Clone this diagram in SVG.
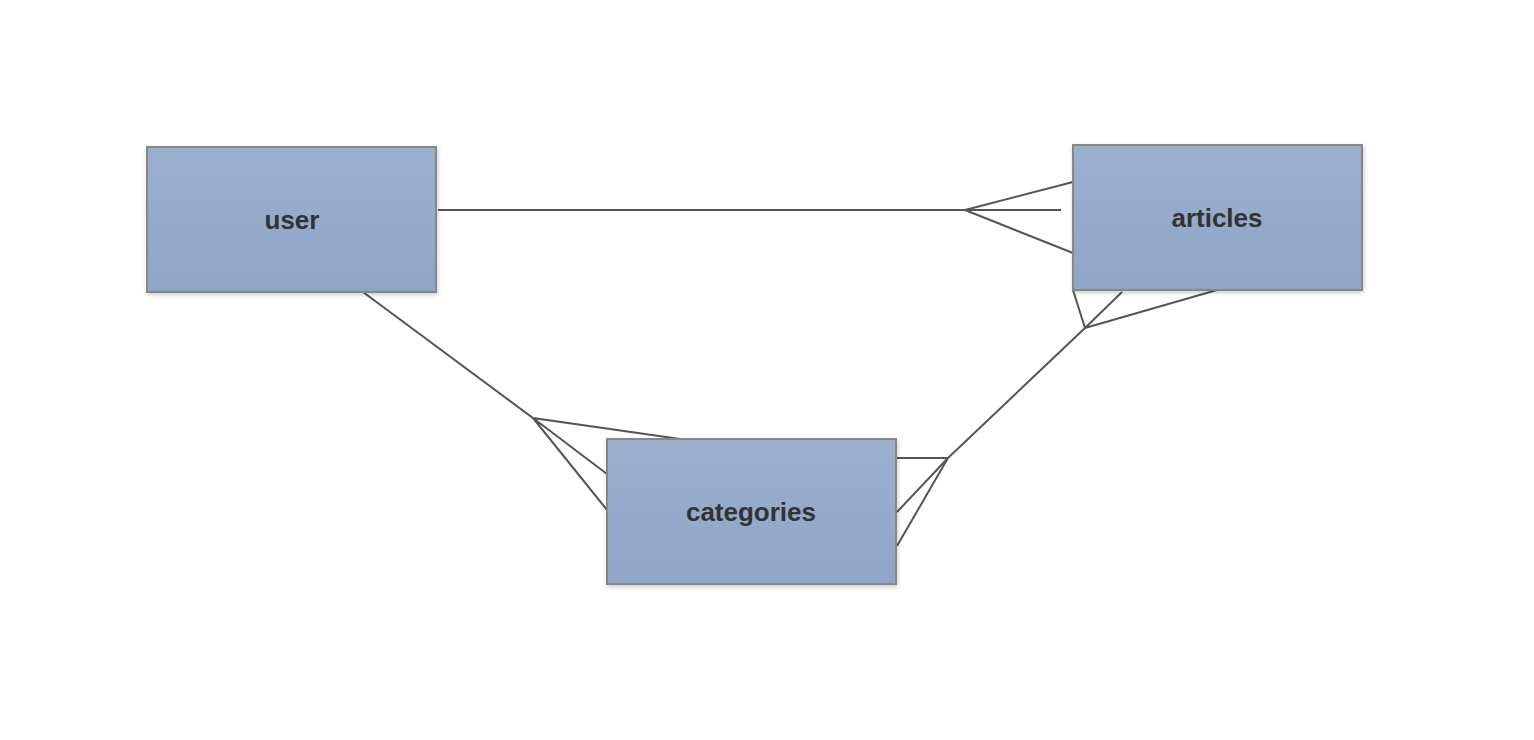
<svg xmlns="http://www.w3.org/2000/svg" width="1534" height="740" viewBox="0 0 1534 740">
<style>
.box{fill:url(#g);stroke:#878787;stroke-width:2;filter:url(#sh)}
.lbl{font-family:"Liberation Sans",Arial,sans-serif;font-weight:bold;font-size:26px;fill:#333;text-anchor:middle;dominant-baseline:central}
.c{fill:none;stroke:#555;stroke-width:2}
</style>
<defs>
<linearGradient id="g" x1="0" y1="0" x2="0" y2="1">
<stop offset="0" stop-color="#9bb0cd"/>
<stop offset="1" stop-color="#8fa5c8"/>
</linearGradient>
<filter id="sh" x="-10%" y="-10%" width="120%" height="130%">
<feDropShadow dx="1" dy="2" stdDeviation="2" flood-color="#000" flood-opacity="0.2"/>
</filter>
</defs>
<rect width="1534" height="740" fill="#fff"/>
<g id="connectors">
<path class="c" d="M438,210 H1061 M965,210 L1073,182 M965,210 L1073,253"/>
<path class="c" d="M363,292 L533,418 L680,439 M533,418 L607,474 M533,418 L607,510"/>
<path class="c" d="M1085,328 L948,458 H897 M948,458 L897,512 M948,458 L897,546 M1085,328 L1073,290 M1085,328 L1122,292 M1085,328 L1217,290"/>
</g>
<g id="user"><rect class="box" x="147" y="147" width="289" height="145"/><text class="lbl" x="292" y="220">user</text></g>
<g id="articles"><rect class="box" x="1073" y="145" width="289" height="145"/><text class="lbl" x="1217" y="218">articles</text></g>
<g id="categories"><rect class="box" x="607" y="439" width="289" height="145"/><text class="lbl" x="751" y="512">categories</text></g>
</svg>
